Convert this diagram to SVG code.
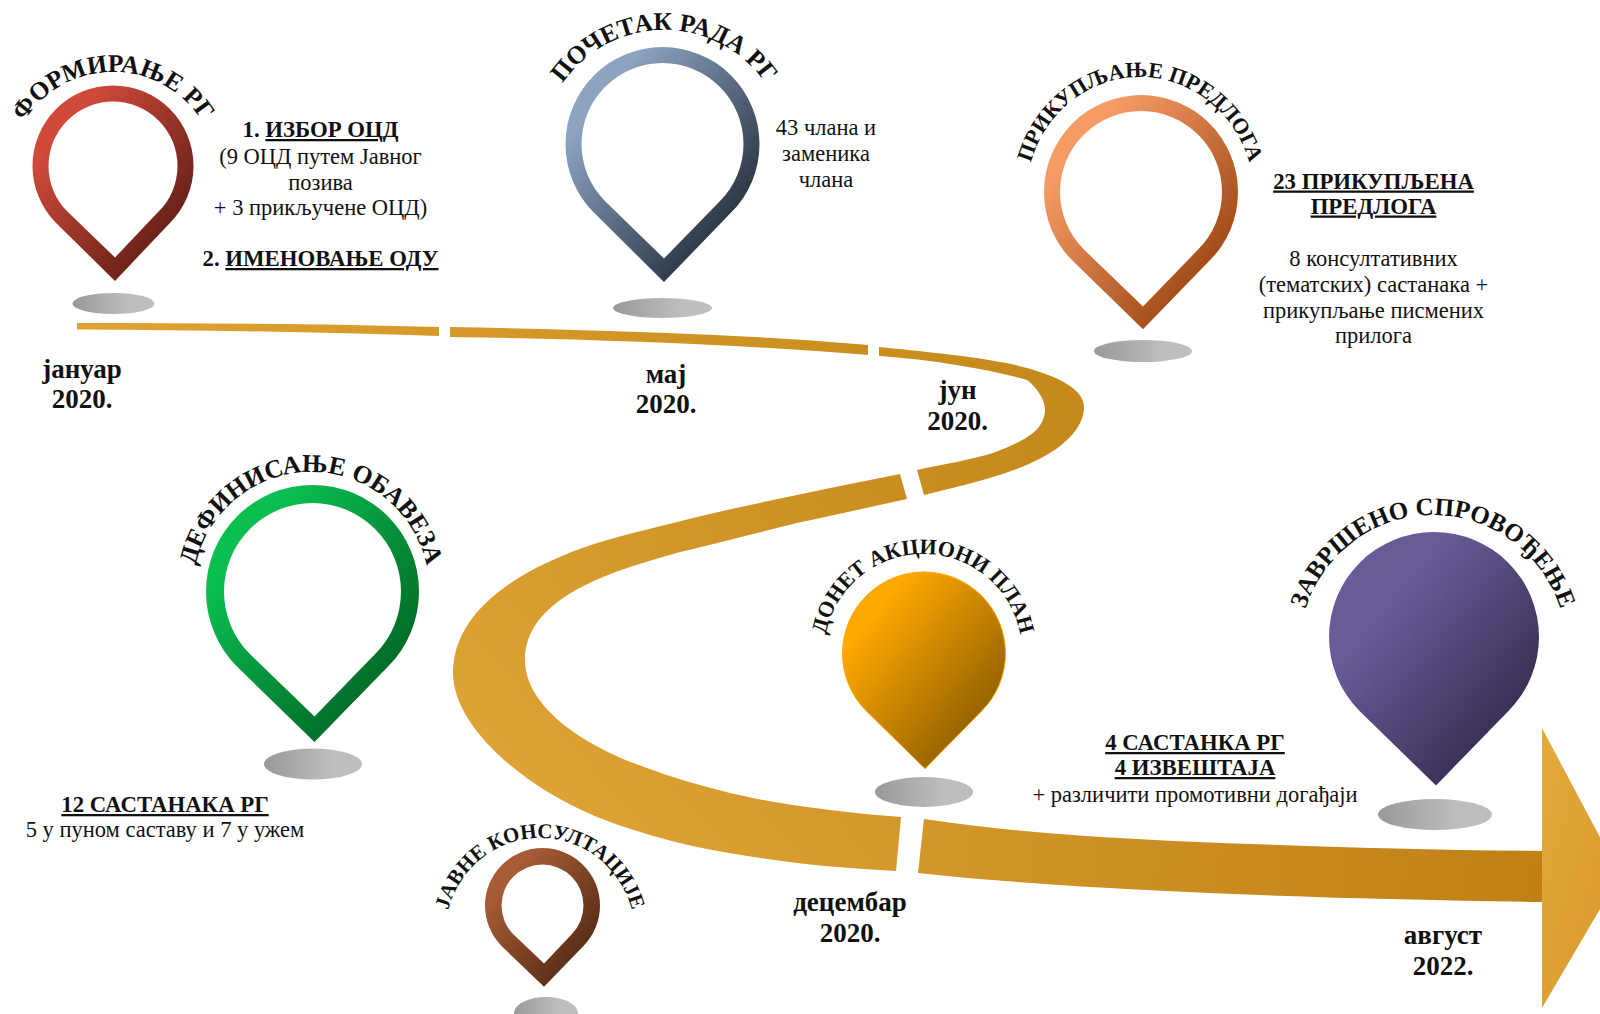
<svg xmlns="http://www.w3.org/2000/svg" width="1600" height="1014" viewBox="0 0 1600 1014">
<style>
text{font-family:"Liberation Serif","Times New Roman",serif;fill:#111;text-anchor:middle}
.b{font-size:22.5px}
.h{font-size:22.8px;font-weight:bold}
.u{text-decoration:underline}
.d{font-size:27px;font-weight:bold}
.c{font-weight:bold}
</style>
<defs>
<linearGradient id="gR" x1="0" y1="0" x2="1" y2="1"><stop offset=".2" stop-color="#D04A3A"/><stop offset=".9" stop-color="#551A12"/></linearGradient>
<linearGradient id="gB" x1="0" y1="0" x2="1" y2="1"><stop offset=".2" stop-color="#8CA3C1"/><stop offset=".88" stop-color="#1E2734"/></linearGradient>
<linearGradient id="gO" x1="0" y1="0" x2="1" y2="1"><stop offset=".2" stop-color="#F59B66"/><stop offset=".88" stop-color="#96400C"/></linearGradient>
<linearGradient id="gG" x1="0" y1="0" x2="1" y2="1"><stop offset=".2" stop-color="#0ABF50"/><stop offset=".88" stop-color="#005F22"/></linearGradient>
<linearGradient id="gA" x1="0" y1="0" x2="1" y2="1"><stop offset=".2" stop-color="#FFA900"/><stop offset=".92" stop-color="#7F5400"/></linearGradient>
<linearGradient id="gP" x1="0" y1="0" x2="1" y2="1"><stop offset=".28" stop-color="#6A5B98"/><stop offset=".92" stop-color="#2E2545"/></linearGradient>
<linearGradient id="gW" x1="0" y1="0" x2="1" y2="1"><stop offset=".2" stop-color="#A85C36"/><stop offset=".88" stop-color="#4F2812"/></linearGradient>
<linearGradient id="gS" x1="0" y1="0" x2="1" y2="0"><stop offset="0" stop-color="#999"/><stop offset=".7" stop-color="#BEBEBE"/></linearGradient>
<linearGradient id="r1" gradientUnits="userSpaceOnUse" x1="77" y1="0" x2="1100" y2="0"><stop offset="0" stop-color="#E0A232"/><stop offset="1" stop-color="#C4891A"/></linearGradient>
<linearGradient id="r2" gradientUnits="userSpaceOnUse" x1="900" y1="480" x2="520" y2="820"><stop offset="0" stop-color="#C98E20"/><stop offset="1" stop-color="#E0A436"/></linearGradient>
<linearGradient id="r3" gradientUnits="userSpaceOnUse" x1="520" y1="800" x2="1542" y2="880"><stop offset="0" stop-color="#E0A436"/><stop offset="1" stop-color="#BF8116"/></linearGradient>
<linearGradient id="r4" x1="0" y1="0" x2="1" y2="1"><stop offset="0" stop-color="#E4A93C"/><stop offset="1" stop-color="#D8982A"/></linearGradient>
<path id="a1" d="M8,177 A105,105 0 0 1 218,177"/>
<path id="a2" d="M541,153 A123,123 0 0 1 787,153"/>
<path id="a3" d="M1026,197 A114,120 0 0 1 1254,197"/>
<path id="a4" d="M193,590 A118,118 0 0 1 429,590"/>
<path id="a5" d="M824,653 A99,99 0 0 1 1022,653"/>
<path id="a6" d="M1299,651 A134,136 0 0 1 1567,651"/>
<path id="a7" d="M445,935 A95,97 0 0 1 635,935"/>
</defs>

<g id="connectors">
<path fill="url(#r1)" d="M77,323 C200,323 330,324 439,327 L439,336 C320,332 200,330 77,329.5Z"/>
<path fill="url(#r1)" d="M450,327 C600,330 760,335 868,345 L868,355 C750,345 600,339 450,337Z"/>
<path fill="url(#r1)" d="M879,347 C950,354 1000,360 1027,368 C1055,376 1084,388 1084,407 C1084,430 1060,448 1043,457 C1028,465 1010,472 993,477 C970,484 947,489 924,495 L917,470 C945,464 970,460 993,453 C1010,447 1024,440 1033,433 C1040,427 1045,419 1045,410 C1045,398 1035,386 1027,380 C1000,372 940,360 879,356Z"/>
<path fill="url(#r2)" d="M900,474 C830,488 760,502 697,517 C662,526 630,533 597,543 C520,568 453,610 453,673 C453,725 520,785 597,817 C630,830 665,840 697,847 C730,854 765,859 797,863 C830,867 863,869 896,871 L901,817 C877,815 853,813 830,810 C797,806 763,801 730,793 C702,786 674,778 647,768 C580,745 525,705 525,660 C525,615 570,587 630,567 C652,560 675,553 697,548 C730,540 765,531 797,523 C835,515 870,507 907,499Z"/>
<path fill="url(#r3)" d="M924,819 C1010,832 1100,838 1198,842 C1300,846 1420,850 1542,851 L1542,902 C1420,900 1280,897 1146,890 C1070,886 990,881 918,873Z"/>
<polygon fill="url(#r4)" points="1542,728 1620,875 1542,1008"/>
</g>

<g id="node-formiranje">
<path fill="url(#gR)" fill-rule="evenodd" d="M115,281 L56.1,222.9 A80.5,80.5 0 1 1 169.9,222.9Z M115,257.5 L67.4,211.6 A64.5,64.5 0 1 1 158.6,211.6Z"/>
<ellipse cx="113.5" cy="303.5" rx="41" ry="10.5" fill="url(#gS)"/>
<text class="c" font-size="25.5"><textPath href="#a1" startOffset="50%">ФОРМИРАЊЕ РГ</textPath></text>
<text class="h" x="320.5" y="137">1. <tspan class="u">ИЗБОР ОЦД</tspan></text>
<text class="b" x="320.5" y="163.5">(9 ОЦД путем Јавног</text>
<text class="b" x="320.5" y="190">позива</text>
<text class="b" x="320.5" y="214.5">+ 3 прикључене ОЦД)</text>
<text class="h" x="320.5" y="266">2. <tspan class="u">ИМЕНОВАЊЕ ОДУ</tspan></text>
<text class="d" x="82" y="378">јануар</text>
<text class="d" x="82" y="408">2020.</text>
</g>

<g id="node-pocetak">
<path fill="url(#gB)" fill-rule="evenodd" d="M664,282 L593.9,212.6 A97,97 0 1 1 731.1,212.6Z M664,258.5 L605.2,201.3 A81,81 0 1 1 719.8,201.3Z"/>
<ellipse cx="662.5" cy="308" rx="49.5" ry="10" fill="url(#gS)"/>
<text class="c" font-size="25.5"><textPath href="#a2" startOffset="50%">ПОЧЕТАК РАДА РГ</textPath></text>
<text class="b" x="826" y="134.5">43 члана и</text>
<text class="b" x="826" y="160.5">заменика</text>
<text class="b" x="826" y="187">члана</text>
<text class="d" x="666" y="383">мај</text>
<text class="d" x="666" y="413">2020.</text>
</g>

<g id="node-prikupljanje">
<path fill="url(#gO)" fill-rule="evenodd" d="M1143,329.2 L1072.4,260.6 A97,97 0 1 1 1209.6,260.6Z M1143,306.5 L1083.7,249.3 A81,81 0 1 1 1198.3,249.3Z"/>
<ellipse cx="1143" cy="351" rx="49" ry="11" fill="url(#gS)"/>
<text class="c" font-size="22"><textPath href="#a3" startOffset="50%">ПРИКУПЉАЊЕ ПРЕДЛОГА</textPath></text>
<text class="h u" x="1373.5" y="188.5">23 ПРИКУПЉЕНА</text>
<text class="h u" x="1373.5" y="213.5">ПРЕДЛОГА</text>
<text class="b" x="1373.5" y="266">8 консултативних</text>
<text class="b" x="1373.5" y="291.5">(тематских) састанака +</text>
<text class="b" x="1373.5" y="317.5">прикупљање писмених</text>
<text class="b" x="1373.5" y="343">прилога</text>
<text class="d" x="957.5" y="399">јун</text>
<text class="d" x="957.5" y="430">2020.</text>
</g>

<g id="node-definisanje">
<path fill="url(#gG)" fill-rule="evenodd" d="M314.5,742 L237.2,666.8 A106.5,106.5 0 1 1 387.8,666.8Z M314.5,716.6 L249.9,654.1 A88.5,88.5 0 1 1 375.1,654.1Z"/>
<ellipse cx="313" cy="764" rx="49" ry="15.5" fill="url(#gS)"/>
<text class="c" font-size="25.5"><textPath href="#a4" startOffset="50%">ДЕФИНИСАЊЕ ОБАВЕЗА</textPath></text>
<text class="h u" x="165" y="812">12 САСТАНАКА РГ</text>
<text class="b" x="165" y="837">5 у пуном саставу и 7 у ужем</text>
</g>

<g id="node-javne">
<path fill="url(#gW)" fill-rule="evenodd" d="M544,986.8 L501.8,946.2 A57.5,57.5 0 1 1 583.2,946.2Z M544,963.5 L513.5,934.5 A41,41 0 1 1 571.5,934.5Z"/>
<ellipse cx="546" cy="1013" rx="32" ry="16" fill="url(#gS)"/>
<text class="c" font-size="21"><textPath href="#a7" startOffset="50%">ЈАВНЕ КОНСУЛТАЦИЈЕ</textPath></text>
</g>

<g id="node-donet">
<path fill="url(#gA)" stroke="#FFA900" stroke-width="1" d="M925,768.7 L866.4,711.1 A81.5,81.5 0 1 1 981.6,711.1Z"/>
<ellipse cx="924" cy="792" rx="49" ry="15" fill="url(#gS)"/>
<text class="c" font-size="22"><textPath href="#a5" startOffset="50%">ДОНЕТ АКЦИОНИ ПЛАН</textPath></text>
<text class="d" x="850" y="911">децембар</text>
<text class="d" x="850" y="942">2020.</text>
</g>

<g id="node-zavrseno">
<path fill="url(#gP)" d="M1436,785.5 L1359.8,711.2 A105,105 0 1 1 1508.2,711.2Z"/>
<ellipse cx="1435" cy="814.5" rx="57" ry="15.5" fill="url(#gS)"/>
<text class="c" font-size="25"><textPath href="#a6" startOffset="50%">ЗАВРШЕНО СПРОВОЂЕЊЕ</textPath></text>
<text class="h u" x="1195" y="750">4 САСТАНКА РГ</text>
<text class="h u" x="1195" y="775">4 ИЗВЕШТАЈА</text>
<text class="b" x="1195" y="802">+ различити промотивни догађаји</text>
<text class="d" x="1443" y="944">август</text>
<text class="d" x="1443" y="975">2022.</text>
</g>
</svg>
